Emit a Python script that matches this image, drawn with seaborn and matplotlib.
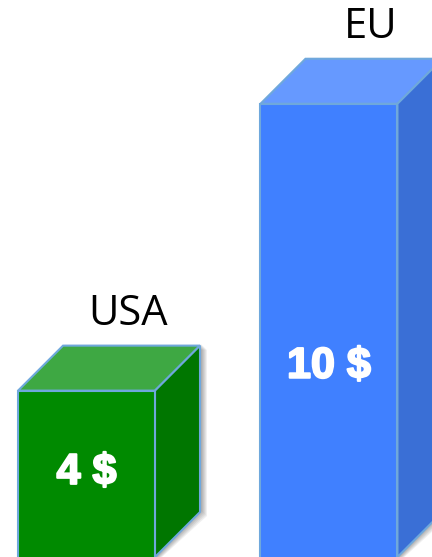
import matplotlib
matplotlib.use("Agg")
import matplotlib.pyplot as plt
from matplotlib.patches import Polygon
import matplotlib.patheffects as pe
import seaborn as sns

# data
countries = ["USA", "EU"]
prices = [4, 10]
value_labels = ["4 $", "10 $"]

# styles
front_colors = ["#008A00", "#4080FF"]
top_colors = ["#3EA843", "#6699FF"]
side_colors = ["#007600", "#3A6FD6"]
edge = "#6FA8DC"
value_label_y = [2.28, 4.5]

sns.set_theme(style="white")

fig = plt.figure(figsize=(4.32, 5.57), dpi=100)
ax = fig.add_axes([0, 0, 1, 1])

sns.barplot(x=countries, y=prices, hue=countries, palette=front_colors,
            legend=False, width=0.565, edgecolor=edge, linewidth=1.5,
            saturation=1, ax=ax, zorder=3)

ax.set_xlim(-0.357, 1.425)
ax.set_ylim(0.52, 12.17)
ax.axis("off")

# one pixel in data units
px_x = 1 / 242.5
px_y = 1 / 47.83
dx, dy = 45 * px_x, 45 * px_y
floor = ax.get_ylim()[0]

for i, bar in enumerate(ax.patches[:len(prices)]):
    x0, w, h = bar.get_x(), bar.get_width(), bar.get_height()

    # soft shadow behind the box
    for k in range(1, 7):
        sx, sy = (1 + k) * px_x, -(k - 2) * px_y
        shadow = [(x0 + sx, floor), (x0 + sx, h + sy),
                  (x0 + dx + sx, h + dy + sy), (x0 + w + dx + sx, h + dy + sy),
                  (x0 + w + dx + sx, floor + dy + sy), (x0 + w + sx, floor)]
        ax.add_patch(Polygon(shadow, closed=True, color="black",
                             alpha=0.06, lw=0, zorder=1))

    top = [(x0, h), (x0 + w, h), (x0 + w + dx, h + dy), (x0 + dx, h + dy)]
    side = [(x0 + w, floor), (x0 + w, h), (x0 + w + dx, h + dy), (x0 + w + dx, floor + dy)]
    ax.add_patch(Polygon(top, closed=True, facecolor=top_colors[i],
                         edgecolor=edge, lw=1.5, zorder=4))
    ax.add_patch(Polygon(side, closed=True, facecolor=side_colors[i],
                         edgecolor=edge, lw=1.5, zorder=4))

    ax.text(x0 + w / 2 + 0.92 * dx, h + dy + 32 * px_y, countries[i],
            ha="center", va="center", fontsize=30, family="Open Sans",
            color="black", zorder=5)
    ax.text(x0 + w / 2, value_label_y[i], value_labels[i],
            ha="center", va="center", fontsize=31, family="Liberation Sans",
            fontweight="bold", color="white", zorder=5,
            path_effects=[pe.withStroke(linewidth=1.5, foreground="white")])

fig.savefig("out.png", dpi=100)
